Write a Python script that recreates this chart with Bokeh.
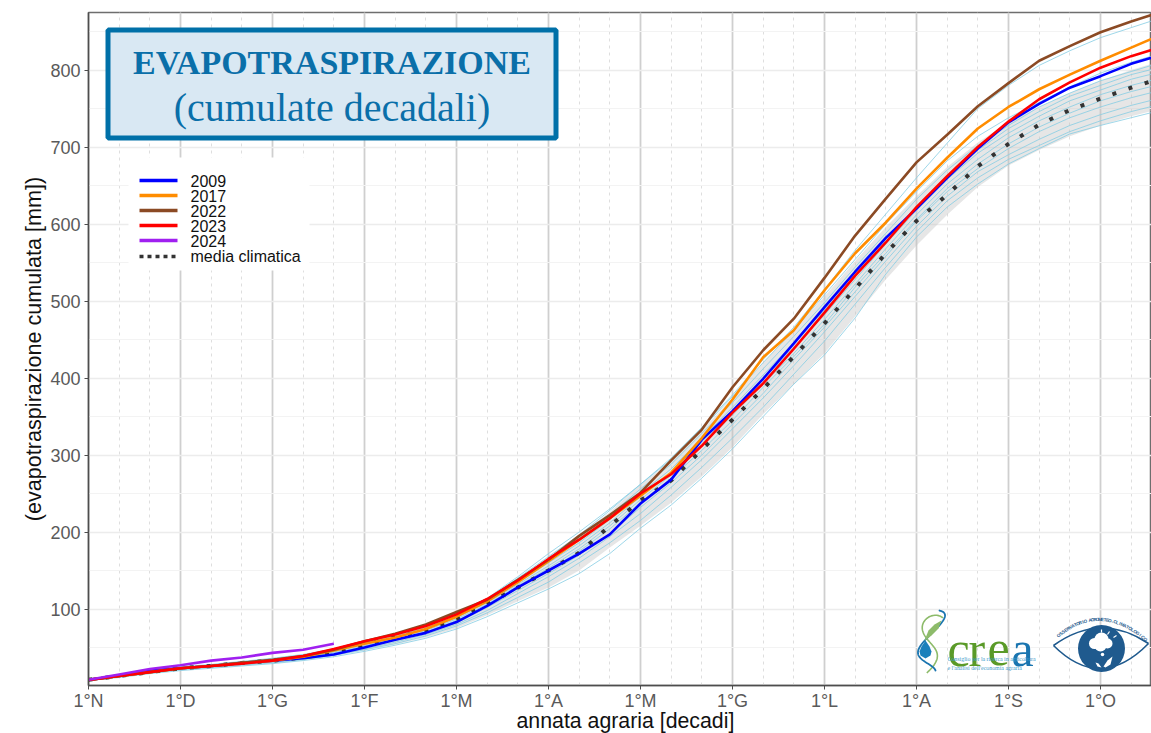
import numpy as np
from bokeh.plotting import figure
from bokeh.embed import file_html
from bokeh.resources import INLINE
from bokeh.core.properties import value
from bokeh.models import FixedTicker, Title

# ---------- data (decades of the agrarian year, mm cumulated) ----------
tick_labels = ["1°N", "1°D", "1°G", "1°F", "1°M", "1°A", "1°M", "1°G", "1°L", "1°A", "1°S", "1°O"]
y_ticks = [100, 200, 300, 400, 500, 600, 700, 800]
y_minor = [50, 150, 250, 350, 450, 550, 650, 750, 850]
decades = list(range(36))

y2009 = [8, 13, 20, 23, 26, 30, 33, 36, 41, 50, 60, 69, 83, 104, 128, 150, 172, 197, 237, 268, 320, 357, 399, 445, 492, 538, 582, 620, 660, 698, 732, 756, 777, 792, 808, 820]
y2017 = [8, 13, 18, 23, 26, 30, 33, 38, 46, 55, 63, 74, 90, 110, 135, 162, 190, 218, 247, 277, 322, 372, 427, 462, 514, 562, 602, 646, 686, 724, 752, 775, 794, 812, 829, 846]
y2022 = [8, 13, 18, 23, 26, 30, 34, 39, 47, 58, 68, 80, 96, 112, 138, 164, 195, 222, 251, 293, 333, 388, 436, 477, 530, 585, 633, 680, 716, 753, 783, 812, 831, 849, 863, 876]
y2023 = [8, 13, 18, 23, 26, 29, 33, 39, 48, 58, 67, 78, 93, 113, 137, 165, 190, 218, 250, 275, 312, 355, 393, 438, 485, 533, 576, 622, 662, 700, 733, 762, 784, 803, 818, 830]
y2024 = [8, 15, 22, 27, 33, 37, 43, 47, 55]
media = [8, 13, 18, 23, 26, 30, 33, 37, 44, 54, 63, 72, 87, 106, 128, 150, 173, 208, 241, 267, 307, 346, 386, 428, 471, 516, 562, 604, 638, 675, 704, 729, 748, 763, 777, 790]
band_lo = [7, 11, 16, 21, 24, 27, 30, 34, 39, 46, 54, 63, 75, 92, 110, 128, 150, 180, 208, 238, 272, 310, 353, 392, 432, 480, 528, 572, 612, 648, 676, 696, 714, 728, 740, 750]
band_hi = [9, 15, 20, 25, 28, 32, 36, 40, 46, 56, 66, 77, 94, 114, 138, 168, 196, 226, 262, 292, 332, 374, 420, 462, 506, 552, 596, 636, 674, 706, 732, 752, 770, 786, 800, 812]

other_years = [
    [7, 11, 16, 20, 23, 26, 29, 33, 38, 45, 53, 62, 74, 90, 108, 126, 146, 172, 205, 235, 270, 308, 350, 392, 430, 478, 535, 583, 622, 652, 678, 698, 717, 728, 738, 748],
    [7, 12, 17, 21, 24, 27, 30, 34, 40, 47, 55, 65, 78, 95, 115, 135, 160, 186, 215, 248, 284, 322, 362, 405, 448, 496, 544, 590, 630, 660, 684, 702, 720, 734, 746, 756],
    [8, 12, 17, 22, 25, 28, 31, 35, 41, 48, 57, 67, 80, 98, 120, 142, 166, 194, 224, 258, 294, 334, 374, 416, 460, 506, 552, 597, 636, 668, 690, 710, 728, 742, 754, 764],
    [8, 12, 18, 22, 25, 28, 32, 36, 41, 50, 59, 69, 82, 102, 124, 146, 170, 198, 232, 264, 300, 340, 380, 424, 466, 512, 558, 604, 642, 672, 698, 720, 738, 752, 764, 774],
    [8, 13, 18, 22, 25, 29, 32, 36, 42, 51, 60, 70, 85, 104, 127, 150, 175, 204, 238, 270, 306, 345, 388, 428, 470, 518, 562, 606, 646, 678, 704, 726, 744, 760, 772, 782],
    [8, 13, 18, 23, 26, 29, 33, 37, 43, 52, 62, 72, 87, 106, 130, 153, 178, 208, 242, 274, 312, 352, 392, 432, 476, 522, 568, 612, 652, 684, 712, 734, 752, 768, 780, 790],
    [8, 13, 19, 23, 26, 30, 33, 38, 44, 54, 63, 74, 89, 108, 132, 156, 182, 212, 246, 278, 316, 356, 398, 440, 482, 528, 574, 618, 658, 692, 718, 740, 760, 774, 788, 798],
    [9, 14, 19, 24, 27, 30, 34, 38, 45, 56, 65, 76, 91, 110, 134, 160, 186, 216, 250, 282, 322, 362, 404, 446, 488, 534, 580, 622, 662, 696, 724, 746, 766, 780, 794, 804],
    [9, 14, 19, 24, 27, 31, 35, 39, 46, 57, 66, 78, 93, 112, 136, 164, 192, 222, 256, 288, 328, 368, 412, 454, 498, 544, 588, 632, 670, 702, 728, 752, 770, 786, 798, 810],
    [9, 15, 20, 25, 28, 32, 36, 41, 48, 58, 68, 80, 95, 114, 142, 172, 200, 230, 262, 294, 334, 376, 420, 462, 508, 554, 600, 642, 682, 714, 738, 758, 778, 796, 810, 822],
    [9, 14, 19, 24, 27, 31, 35, 40, 47, 58, 68, 80, 95, 113, 140, 168, 196, 228, 262, 296, 336, 378, 424, 466, 515, 566, 613, 660, 705, 750, 780, 806, 825, 842, 855, 868],
]

legend_names = ["2009", "2017", "2022", "2023", "2024", "media climatica"]
legend_colors = ["#0000ff", "#ff8c00", "#8b4a24", "#ff0000", "#a020f0", "#333333"]

# ---------- figure ----------
L, T, R, B = 88, 12, 1151, 685            # frame in image pixels
DX = 92 / 3                               # pixels per decade
DY = 0.77                                 # pixels per mm
x_end = (R - L) / DX
y_lo = 800 + (69.5 - B) / DY
y_hi = 800 + (69.5 - T) / DY

p = figure(frame_width=R - L, frame_height=B - T, output_backend="svg", toolbar_location=None,
           x_range=(0, x_end), y_range=(y_lo, y_hi),
           min_border_left=L, min_border_right=0, min_border_top=T, min_border_bottom=733 - B,
           background_fill_color="white", border_fill_color="white")

def X(px): return (np.asarray(px, dtype=float) - L) / DX
def Y(py): return 800 + (69.5 - np.asarray(py, dtype=float)) / DY

p.outline_line_color = "#6e6e6e"
p.outline_line_width = 1.5

p.xaxis.ticker = FixedTicker(ticks=decades[::3][:len(tick_labels)], minor_ticks=decades)
p.xaxis.major_label_overrides = {d: s for d, s in zip(decades[::3], tick_labels)}
p.yaxis.ticker = FixedTicker(ticks=y_ticks, minor_ticks=y_minor)
for ax in (p.xaxis[0], p.yaxis[0]):
    ax.axis_line_color = "#4d4d4d"
    ax.axis_line_width = 1.5
    ax.major_tick_line_color = "#4d4d4d"
    ax.major_tick_line_width = 1
    ax.major_tick_in = 0
    ax.major_tick_out = 4
    ax.minor_tick_line_color = None
    ax.major_label_text_font = "Liberation Sans"
    ax.major_label_text_font_size = "18px"
    ax.major_label_text_color = "#5a5a5a"
    ax.axis_label_text_font = "Liberation Sans"
    ax.axis_label_text_font_style = "normal"
    ax.axis_label_text_color = "#111111"
p.xaxis.major_label_standoff = 1
p.yaxis.axis_label = "(evapotraspirazione cumulata [mm])"
p.yaxis.axis_label_text_font_size = "21.6px"
p.yaxis.axis_label_standoff = 1
p.yaxis.major_label_standoff = 4

p.xgrid.ticker = p.xaxis[0].ticker
p.ygrid.ticker = p.yaxis[0].ticker
p.xgrid.grid_line_color = "#cfcfcf"
p.xgrid.grid_line_width = 1.8
p.xgrid.minor_grid_line_color = "#dedede"
p.xgrid.minor_grid_line_width = 1
p.xgrid.minor_grid_line_dash = "3 4"
p.ygrid.grid_line_color = "#ececec"
p.ygrid.grid_line_width = 1.6
p.ygrid.minor_grid_line_color = "#f3f3f3"
p.ygrid.minor_grid_line_width = 1

# x axis title, placed from the frame's left edge
p.add_layout(Title(text="annata agraria [decadi]", align="left", offset=516 - L, standoff=-13, text_font="Liberation Sans",
                   text_font_size="21.3px", text_font_style="normal", text_color="#111111"), "below")

# white panel behind the legend (hides the grid)
p.quad(left=X([128]), right=X([309]), top=Y([157]), bottom=Y([270]), fill_color="white", line_color=None)

# ---------- series ----------
p.varea(x=decades, y1=band_lo, y2=band_hi, fill_color="#c4c4c4", fill_alpha=0.42)
for yr in other_years:
    p.line(decades, yr, line_color="#86cde4", line_width=1, line_alpha=0.8)
p.line(decades, media, line_color="#333333", line_width=4, line_dash="4 13")
p.line(decades, y2009, line_color=legend_colors[0], line_width=2.6)
p.line(decades, y2017, line_color=legend_colors[1], line_width=2.6)
p.line(decades, y2022, line_color=legend_colors[2], line_width=2.6)
p.line(decades, y2023, line_color=legend_colors[3], line_width=2.6)
p.line(decades[:len(y2024)], y2024, line_color=legend_colors[4], line_width=2.6)

def txt(x, y, s, size, color, font="Liberation Serif", style="normal", align="center", angle=0):
    p.text(x=X([x]), y=Y([y]), text=[s], text_font=value(font), text_font_size=value(size), text_font_style=value(style),
           text_color=color, text_align=value(align), text_baseline=value("middle"), angle=angle)

# ---------- legend: rows are tighter than Bokeh's Legend allows for this font size ----------
for name, col, row_y in zip(legend_names, legend_colors, [180, 195, 210, 225, 240, 256]):
    dash = "4 4" if name == "media climatica" else "solid"
    p.line(X([139, 177]), Y([row_y, row_y]), line_color=col, line_width=3.4, line_dash=dash)
    txt(190, row_y, name, "16px", "#111111", font="Liberation Sans", align="left")

# ---------- title box ----------
p.quad(left=X([107.5]), right=X([555.5]), top=Y([29.5]), bottom=Y([137.5]), fill_color="#d9e8f3", line_color="#0070a8", line_width=5)
txt(331.5, 62, "EVAPOTRASPIRAZIONE", "34px", "#0a6fa9", style="bold")
txt(331.5, 107, "(cumulate decadali)", "40px", "#0a6fa9")

# ---------- CREA logo ----------
def base(x, y, s, size, color):
    p.text(x=X([x]), y=Y([y]), text=[s], text_font=value("Liberation Serif"), text_font_size=value(size),
           text_color=color, text_align=value("left"), text_baseline=value("alphabetic"))
base(947, 648, "c", "50px", "#5a9a28")
base(968, 648, "r", "50px", "#5a9a28")
base(987, 648, "e", "50px", "#5a9a28")
base(1011, 648, "a", "50px", "#1a75b0")
base(947, 658, "Consiglio per la ricerca in agricoltura", "5.9px", "#3d9ccb")
base(947, 667, "e  l'analisi  dell'economia  agraria", "5.9px", "#3d9ccb")

def spline(px, py, color, width):
    # smooth strand through hand-read pixel positions
    px, py = np.array(px, float), np.array(py, float)
    t = np.linspace(0, 1, len(px))
    tt = np.linspace(0, 1, 60)
    c = np.polyfit(t, px, min(5, len(px) - 1)), np.polyfit(t, py, min(5, len(px) - 1))
    p.line(X(np.polyval(c[0], tt)), Y(np.polyval(c[1], tt)), line_color=color, line_width=width, line_cap="round")

spline([942, 927, 922, 927, 933, 938, 930, 927], [617, 617, 628, 638, 648, 658, 668, 672], "#8dbb6a", 1.6)
spline([939, 943, 930, 920, 918, 927, 935], [610, 620, 633, 647, 655, 663, 670], "#1a75b0", 1.8)
p.patch(X([924, 928, 934, 941, 938, 931, 925]), Y([640, 630, 624, 620, 628, 635, 640]), fill_color="#8dbb6a", line_color=None)
p.patch(X([925, 929, 931, 930, 925, 920, 919, 921]), Y([640, 646, 651, 655, 658, 655, 651, 646]), fill_color="#1a80bb", line_color=None)

# ---------- eye logo ----------
EYE = "#1f5a8e"
p.quadratic(x0=X([1053]), y0=Y([645]), x1=X([1148]), y1=Y([643]), cx=X([1100]), cy=Y([611]), line_color=EYE, line_width=1.6)
p.quadratic(x0=X([1053]), y0=Y([645]), x1=X([1148]), y1=Y([643]), cx=X([1100]), cy=Y([692]), line_color=EYE, line_width=1.6)
p.scatter(X([1101]), Y([648]), size=47, marker="circle", fill_color=EYE, line_color=None)
p.scatter(X([1094, 1101, 1107, 1100]), Y([643, 639, 643, 645]), size=[11, 14, 10, 12], marker="circle", fill_color="white", line_color=None)
p.scatter(X([1102]), Y([654]), size=3.5, marker="circle", fill_color="white", line_color=None)
p.patch(X([1103, 1107, 1112, 1110, 1105]), Y([666, 660, 656, 664, 667]), fill_color="white", line_color=None)
p.patch(X([1101, 1097, 1095, 1098]), Y([667, 666, 662, 663]), fill_color="white", line_color=None)
p.segment(x0=X([1101, 1107, 1113]), y0=Y([632, 634, 637]), x1=X([1101, 1109, 1116]), y1=Y([629, 631, 635]), line_color="white", line_width=1.2)
arc_text = "OSSERVATORIO AGROMETEO-CLIMATOLOGICO"
for i, ch in enumerate(arc_text):
    u = (i + 0.5) / len(arc_text)
    ax0, ay0, cx0, cy0, bx0, by0 = 1057, 636, 1100, 600, 1146, 640
    ax_ = (1 - u) ** 2 * ax0 + 2 * u * (1 - u) * cx0 + u ** 2 * bx0
    ay_ = (1 - u) ** 2 * ay0 + 2 * u * (1 - u) * cy0 + u ** 2 * by0
    dx = 2 * (1 - u) * (cx0 - ax0) + 2 * u * (bx0 - cx0)
    dy = 2 * (1 - u) * (cy0 - ay0) + 2 * u * (by0 - cy0)
    txt(ax_, ay_, ch, "4.6px", EYE, font="Liberation Sans", style="bold", angle=-np.arctan2(dy, dx))

open("out.html", "w").write(file_html(p, INLINE))
